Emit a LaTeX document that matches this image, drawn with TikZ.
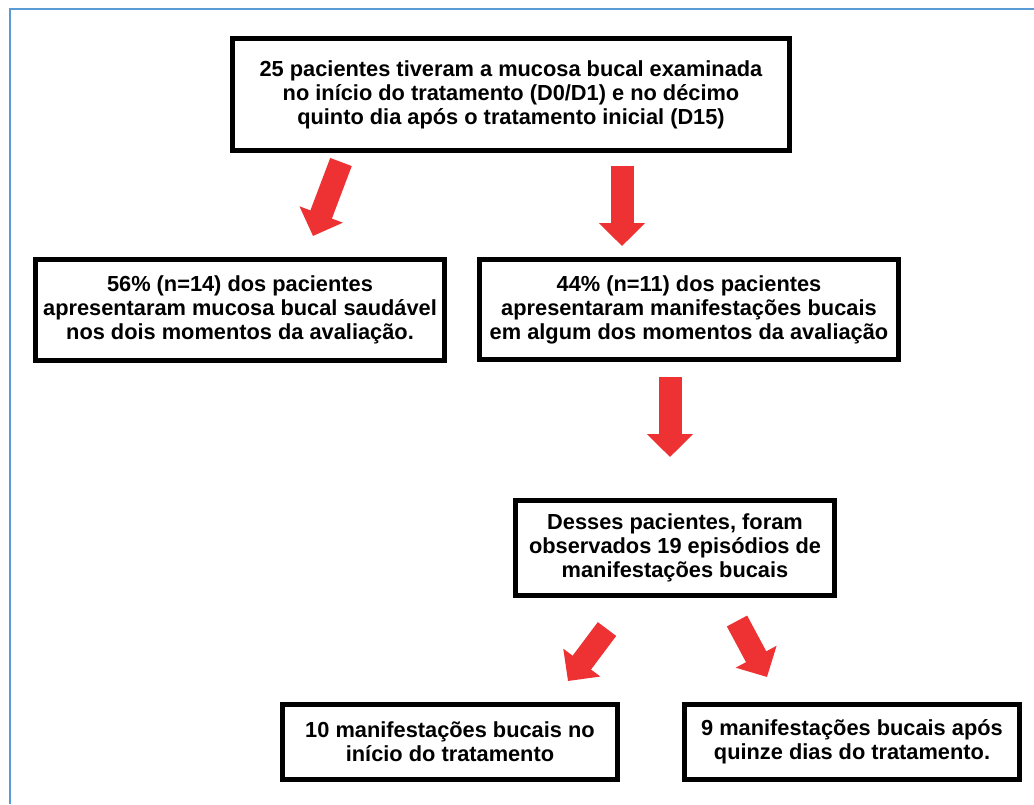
\documentclass[tikz,border=0pt]{standalone}
\usepackage{fontspec}
\setmainfont{Liberation Sans}
\usetikzlibrary{arrows.meta}
\definecolor{frameblue}{RGB}{91,155,213}
\definecolor{arrowred}{RGB}{238,50,52}
\begin{document}
\begin{tikzpicture}[
        x=0.025cm, y=-0.025cm,
        box/.style={draw=black, line width=0.125cm, align=center, inner sep=0pt,
            font=\fontsize{15.5}{17.1}\selectfont\bfseries},
        arrow/.style={arrowred, line width=0.575cm,
            -{Triangle[length=0.575cm, width=1.125cm]}}
    ]
    \useasboundingbox (0,0) rectangle (1034,804);
    % Frame
    \draw[frameblue, line width=0.05cm] (10,804) -- (10,9) -- (1034,9);
    % Nodes
    \node[box, minimum width=13.925cm, minimum height=2.8cm] (T) at (511,94.5)
        {25 pacientes tiveram a mucosa bucal examinada\\
         no início do tratamento (D0/D1) e no décimo\\
         quinto dia após o tratamento inicial (D15)};
    \node[box, minimum width=10.225cm, minimum height=2.525cm] (L) at (240,310)
        {56\% (n=14) dos pacientes\\
         apresentaram mucosa bucal saudável\\
         nos dois momentos da avaliação.};
    \node[box, minimum width=10.475cm, minimum height=2.5cm] (R) at (689,309.5)
        {44\% (n=11) dos pacientes\\
         apresentaram manifestações bucais\\
         em algum dos momentos da avaliação};
    \node[box, minimum width=7.975cm, minimum height=2.375cm] (M) at (675,548)
        {Desses pacientes, foram\\
         observados 19 episódios de\\
         manifestações bucais};
    \node[box, minimum width=8.375cm, minimum height=1.875cm] (BL) at (450,742)
        {10 manifestações bucais no\\
         início do tratamento};
    \node[box, minimum width=8.375cm, minimum height=1.875cm] (BR) at (852,742)
        {9 manifestações bucais após\\
         quinze dias do tratamento.};
    % Arrow ends
    \coordinate (a1s) at (341,162);
    \coordinate (a1e) at (313,236);
    \coordinate (a2s) at (622,166);
    \coordinate (a2e) at (622,246);
    \coordinate (a3s) at (670,377);
    \coordinate (a3e) at (670,457);
    \coordinate (a4s) at (607,629);
    \coordinate (a4e) at (568,681);
    \coordinate (a5s) at (737,621);
    \coordinate (a5e) at (767,677);
    % Edges
    \draw[arrow] (a1s) -- (a1e);
    \draw[arrow] (a2s) -- (a2e);
    \draw[arrow] (a3s) -- (a3e);
    \draw[arrow] (a4s) -- (a4e);
    \draw[arrow] (a5s) -- (a5e);
\end{tikzpicture}
\end{document}
